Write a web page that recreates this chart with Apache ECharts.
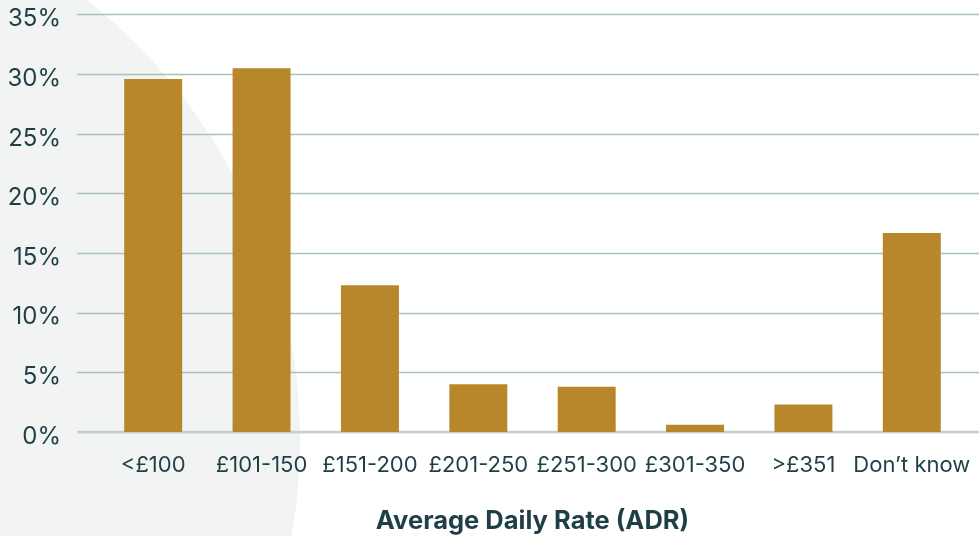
<!DOCTYPE html>
<html>
<head>
<meta charset="utf-8">
<script src="https://cdn.jsdelivr.net/npm/echarts@6/dist/echarts.min.js"></script>
<style>
  html, body { margin: 0; padding: 0; background: #ffffff; }
  #chart { width: 979px; height: 536px; }
</style>
</head>
<body>
<div id="chart"></div>
<script>
// Share of respondents by average daily rate band
const categories = ['<£100', '£101-150', '£151-200', '£201-250', '£251-300', '£301-350', '>£351', 'Don\u2019t know'];
const shares = [29.6, 30.5, 12.3, 4.0, 3.8, 0.6, 2.3, 16.7];
const yTicks = [0, 5, 10, 15, 20, 25, 30, 35];
const axisTitle = 'Average Daily Rate (ADR)';

const ink = '#1E3F45';
const gold = '#B8872B';
const font = 'Inter, "Open Sans", sans-serif';

const chart = echarts.init(document.getElementById('chart'), null, { renderer: 'canvas' });

chart.setOption({
  backgroundColor: '#ffffff',
  animation: false,
  graphic: [{
    type: 'circle',
    z: -10,
    silent: true,
    shape: { cx: -261, cy: 440, r: 561 },
    style: { fill: '#F2F4F3' }
  }],
  grid: [
    { left: 77, right: 0, top: 14.7, bottom: 104, containLabel: false, outerBoundsMode: 'none' },
    { left: 99, right: 13, top: 14.7, bottom: 104, containLabel: false, outerBoundsMode: 'none' }
  ],
  xAxis: [
    { gridIndex: 0, type: 'value', show: false, min: 0, max: 1 },
    {
      gridIndex: 1,
      type: 'category',
      data: categories,
      axisLine: { show: false },
      axisTick: { show: false },
      axisLabel: { color: ink, fontFamily: font, fontSize: 22, margin: 22, interval: 0 },
      name: axisTitle,
      nameLocation: 'middle',
      nameGap: 76,
      nameTextStyle: { color: ink, fontFamily: font, fontSize: 25.5, fontWeight: 'bold' }
    }
  ],
  yAxis: [
    {
      gridIndex: 0,
      type: 'value',
      min: yTicks[0],
      max: yTicks[yTicks.length - 1],
      interval: 5,
      axisLine: { show: false },
      axisTick: { show: false },
      axisLabel: {
        color: ink, fontFamily: font, fontSize: 24, margin: 16,
        verticalAlign: 'top',
        lineHeight: 9,
        formatter: v => v + '%'
      },
      splitLine: { lineStyle: { color: '#A6C2B9', width: 1.4 } }
    },
    { gridIndex: 1, type: 'value', min: 0, max: 35, show: false }
  ],
  series: [
    {
      type: 'line',
      xAxisIndex: 0,
      yAxisIndex: 0,
      data: [[0, 0], [1, 0]],
      symbol: 'none',
      silent: true,
      lineStyle: { color: '#C3D1CD', width: 2.5 },
      z: 1
    },
    {
      type: 'bar',
      xAxisIndex: 1,
      yAxisIndex: 1,
      data: shares,
      barWidth: '53.5%',
      itemStyle: { color: gold },
      z: 3
    }
  ]
});
</script>
</body>
</html>
